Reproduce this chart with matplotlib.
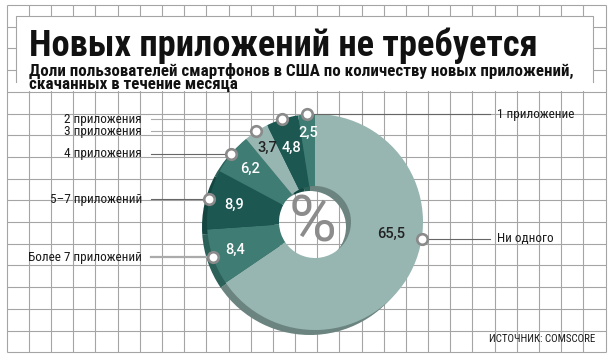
import numpy as np
import matplotlib
matplotlib.use('Agg')
import matplotlib.pyplot as plt
from matplotlib import font_manager
from matplotlib.patches import Rectangle

W, H = 613, 360

# data (clockwise from 12 o'clock)
categories = ['Ни одного', 'Более 7 приложений', '5–7 приложений', '4 приложения',
              '3 приложения', '2 приложения', '1 приложение']
shares = [65.5, 8.4, 8.9, 6.2, 3.7, 4.8, 2.5]
share_labels = ['65,5', '8,4', '8,9', '6,2', '3,7', '4,8', '2,5']

title = 'Новых приложений не требуется'
subtitle = ['Доли пользователей смартфонов в США по количеству новых приложений,',
            'скачанных в течение месяца']
source = 'ИСТОЧНИК: COMSCORE'

# styles
LIGHT, MED, DARK = '#97b6b1', '#3e7c74', '#1c5752'
LIGHT_S, MED_S, DARK_S = '#6b8480', '#2b6158', '#154742'
top_colors = [LIGHT, MED, DARK, MED, LIGHT, DARK, MED]
side_colors = [LIGHT_S, MED_S, DARK_S, MED_S, LIGHT_S, DARK_S, MED_S]
value_colors = ['#222222', 'white', 'white', 'white', '#222222', 'white', 'white']
line_colors = ['#666666', '#ababab', '#666666', '#666666', '#ababab', '#ababab', '#666666']
line_widths = [0.8, 1.6, 0.8, 0.8, 0.8, 0.8, 0.8]
label_side = ['right', 'left', 'left', 'left', 'left', 'left', 'right']
anchor_frac = [0.42, 0.5, 0.5, 0.5, 0.5, 0.5, 0.5]
value_r = [77, 84, 83, 84, 88, 78, 89]
GRID = '#a5a5a5'

names = {f.name for f in font_manager.fontManager.ttflist}


def pick(cands):
    for c in cands:
        if c in names:
            return c
    return 'DejaVu Sans'


narrow = pick(['Liberation Sans Narrow', 'DejaVu Sans Condensed', 'Roboto Condensed', 'Liberation Sans'])
num_font = pick(['Roboto', 'DejaVu Sans'])

fig = plt.figure(figsize=(W / 100, H / 100), dpi=100)
ax = fig.add_axes([0, 0, 1, 1])


def Y(yi):
    return H - yi


# squared paper background
xs = 6.7 + 22.18 * np.arange(28)
ys = 5 + 21.7 * np.arange(17)
ax.vlines(xs, Y(ys[-1]), Y(ys[0]), color=GRID, lw=0.8, zorder=0)
ax.hlines(Y(ys), xs[0], xs[-1], color=GRID, lw=0.8, zorder=0)

# white title box
ax.add_patch(Rectangle((16, Y(91)), 577, 75, fc='white', ec='none', zorder=1))
ax.plot([16, 16, 593, 593], [Y(82), Y(16), Y(16), Y(82)], color=GRID, lw=0.8, zorder=1.1)

# donut: side (extrusion) first, then top face
cx, cy, R, r_in = 315, Y(222), 108, 36
ax.pie(shares, colors=side_colors, startangle=90, counterclock=False,
       radius=R, center=(cx - 5, cy - 5), frame=True,
       wedgeprops=dict(width=R - r_in, linewidth=0, zorder=2))
wedges, _ = ax.pie(shares, colors=top_colors, startangle=90, counterclock=False,
                   radius=R, center=(cx, cy), frame=True,
                   wedgeprops=dict(width=R - r_in, linewidth=0, zorder=3))

ax.text(cx - 2, cy - 2, '%', fontsize=47, color='#8c8c8c', family=num_font,
        ha='center', va='center', zorder=4)

for i, w in enumerate(wedges):
    ang = np.deg2rad(w.theta2 - anchor_frac[i] * (w.theta2 - w.theta1))
    mx, my = cx + R * np.cos(ang), cy + R * np.sin(ang)
    if label_side[i] == 'left':
        ax.plot([151, mx], [my, my], color=line_colors[i], lw=line_widths[i], zorder=4.5)
        ax.text(142, my, categories[i], ha='right', va='center', fontsize=9.5,
                family=narrow, color='#1a1a1a', zorder=6)
    else:
        ax.plot([mx, 490], [my, my], color=line_colors[i], lw=line_widths[i], zorder=4.5)
        ax.text(497, my, categories[i], ha='left', va='center', fontsize=9.5,
                family=narrow, color='#1a1a1a', zorder=6)
    ax.plot(mx, my, 'o', ms=7.6, mfc='white', mec='#8a8a8a', mew=1.9, zorder=5)
    tx, ty = cx + value_r[i] * np.cos(ang), cy + value_r[i] * np.sin(ang)
    ax.text(tx, ty, share_labels[i], ha='center', va='center', fontsize=10.5,
            family=num_font, weight='medium', color=value_colors[i], zorder=6)

t_title = ax.text(29, Y(55.5), title, fontsize=24, weight='bold', family=narrow,
                  color='#111111', va='baseline', zorder=6)
t_sub1 = ax.text(29, Y(75.5), subtitle[0], fontsize=10, weight='bold', family=narrow,
                 color='#111111', va='baseline', zorder=6)
t_sub2 = ax.text(29, Y(89), subtitle[1], fontsize=10, weight='bold', family=narrow,
                 color='#111111', va='baseline', zorder=6)
ax.text(595, Y(339), source, ha='right', va='center', fontsize=7.8, family=narrow,
        color='#1a1a1a', zorder=6)

ax.set_xlim(0, W)
ax.set_ylim(0, H)
ax.set_aspect('auto')
ax.axis('off')

# fit title / subtitle widths to the reference
fig.canvas.draw()
rend = fig.canvas.get_renderer()
for t, target in [(t_title, 511), (t_sub1, 544)]:
    wpx = t.get_window_extent(rend).width
    t.set_fontsize(t.get_fontsize() * target / wpx)
t_sub2.set_fontsize(t_sub1.get_fontsize())

fig.savefig('out.png', dpi=100, facecolor='white')
